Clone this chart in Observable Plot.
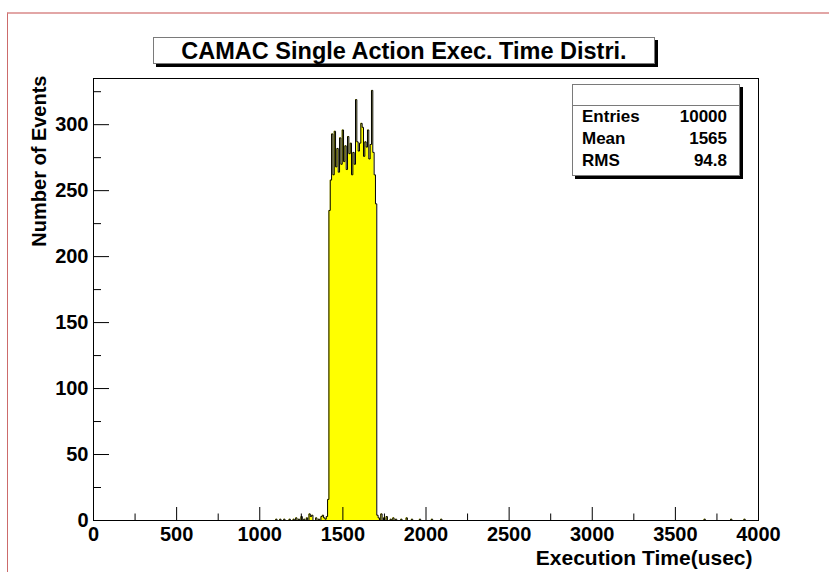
<!DOCTYPE html>
<html><head><meta charset="utf-8">
<script src="https://cdn.jsdelivr.net/npm/d3@7"></script>
<script src="https://cdn.jsdelivr.net/npm/@observablehq/plot@0.6"></script>
<style>
body{margin:0;background:#fff;}
#wrap{position:relative;width:829px;height:572px;overflow:hidden;font-family:"Liberation Sans",Arial,Helvetica,sans-serif;}
#border{position:absolute;left:7px;top:12px;width:830px;height:570px;border-top:2px solid #e2a6a6;border-left:1px solid #cc6b6b;box-sizing:border-box;z-index:0;}
#chart{position:absolute;left:0;top:0;z-index:1;}
.pave{position:absolute;background:#fff;border:1px solid #7a7a7a;box-shadow:3px 3px 0 #000;box-sizing:border-box;z-index:2;color:#000;font-weight:bold;}
#title{left:153px;top:37px;width:502px;height:27px;font-size:23.5px;line-height:26px;text-align:center;white-space:nowrap;}
#stats{left:572px;top:84px;width:168px;height:92px;font-size:17px;}
#stats .hdr{height:20px;border-bottom:1px solid #7a7a7a;}
#stats .row{position:relative;height:22px;line-height:22px;padding:0 12px 0 9px;}
#stats .row span.v{position:absolute;right:12px;}
</style>
</head><body>
<div id="wrap">
  <div id="border"></div>
  <div id="chart"></div>
  <div class="pave" id="title">CAMAC Single Action Exec. Time Distri.</div>
  <div class="pave" id="stats">
    <div class="hdr"></div>
    <div class="row"><span>Entries</span><span class="v">10000</span></div>
    <div class="row"><span>Mean</span><span class="v">1565</span></div>
    <div class="row"><span>RMS</span><span class="v">94.8</span></div>
  </div>
</div>
<script>
// Histogram: 500 bins of 8 usec over 0..4000
const BIN_WIDTH = 8;
const X_MIN = 0, X_MAX = 4000;

const peakEdges = [1400,1408,1416,1424,1432,1440,1448,1456,1464,1472,1480,1488,1496,1504,1512,1520,1528,1536,1544,1552,1560,1568,1576,1584,1592,1600,1608,1616,1624,1632,1640,1648,1656,1664,1672,1680,1688,1696];
const peakCounts = [3,16,235,258,293,262,295,268,282,264,290,270,296,272,284,266,291,278,286,262,279,270,319,287,280,286,301,298,276,287,283,296,274,285,326,279,262,240];

const leftTailEdges = [1096,1120,1144,1176,1200,1216,1232,1248,1264,1280,1296,1304,1312,1336,1352,1368,1376,1384,1392];
const leftTailCounts = [1,1,1,1,1,2,1,3,1,2,5,3,4,2,1,3,4,2,1];

const rightTailEdges = [1704,1712,1728,1744,1760,1784,1800,1816,1848,1880,1912,1960,2032,2088,3672,3832,3912];
const rightTailCounts = [4,2,5,2,3,1,2,1,1,2,1,1,1,1,1,1,1];

const xMajorTicks = [0,500,1000,1500,2000,2500,3000,3500,4000];
const xMinorTicks = [250,750,1250,1750,2250,2750,3250,3750];
const yMajorTicks = [0,50,100,150,200,250,300];
const yMinorTicks = [25,75,125,175,225,275,325];

// build full bin table from the named arrays
const nBins = (X_MAX - X_MIN) / BIN_WIDTH;
const counts = new Array(nBins).fill(0);
function put(edges, vals){ edges.forEach((e,i)=>{ counts[Math.round((e - X_MIN)/BIN_WIDTH)] = vals[i]; }); }
put(leftTailEdges, leftTailCounts);
put(peakEdges, peakCounts);
put(rightTailEdges, rightTailCounts);
const pts = counts.map((n,i)=>({x: X_MIN + i*BIN_WIDTH, y: n}));
pts.push({x: X_MAX, y: counts[nBins-1]});

const W = 829, H = 572, mL = 93, mR = 71, mT = 78, mB = 52;
const fw = W - mL - mR, fh = H - mT - mB;
const font = "bold";

const chart = Plot.plot({
  width: W, height: H,
  marginLeft: mL, marginRight: mR, marginTop: mT, marginBottom: mB,
  style: {fontFamily: '"Liberation Sans", Arial, Helvetica, sans-serif', background: "transparent", color: "#000"},
  x: {domain: [X_MIN, X_MAX]},
  y: {domain: [0, 335]},
  marks: [
    Plot.areaY(pts, {x: "x", y: "y", curve: "step-after", fill: "#ffff00"}),
    Plot.line(pts, {x: "x", y: "y", curve: "step-after", stroke: "#000", strokeWidth: 1}),
    Plot.tickX(xMajorTicks, {x: d => d, insetTop: fh - 13, stroke: "#000"}),
    Plot.tickX(xMinorTicks, {x: d => d, insetTop: fh - 6.5, stroke: "#000"}),
    Plot.tickY(yMajorTicks, {y: d => d, insetRight: fw - 16, stroke: "#000"}),
    Plot.tickY(yMinorTicks, {y: d => d, insetRight: fw - 8, stroke: "#000"}),
    Plot.frame({stroke: "#000"}),
    Plot.axisX(xMajorTicks, {tickSize: 0, tickPadding: 6, fontSize: 20, fontWeight: font, label: null, tickFormat: d => String(d), fill: "#000"}),
    Plot.axisY(yMajorTicks, {tickSize: 0, tickPadding: 5, fontSize: 20, fontWeight: font, label: null, tickFormat: d => String(d), fill: "#000"}),
    Plot.text(["Execution Time(usec)"], {frameAnchor: "bottom-right", text: d => d, textAnchor: "end", lineAnchor: "middle", dx: -6, dy: 38, fontSize: 21, fontWeight: font, fill: "#000"}),
    Plot.text(["Number of Events"], {frameAnchor: "top-left", text: d => d, textAnchor: "end", lineAnchor: "middle", rotate: -90, dx: -54, dy: -3, fontSize: 20, fontWeight: font, fill: "#000"})
  ]
});
document.getElementById("chart").appendChild(chart);
</script>
</body></html>
